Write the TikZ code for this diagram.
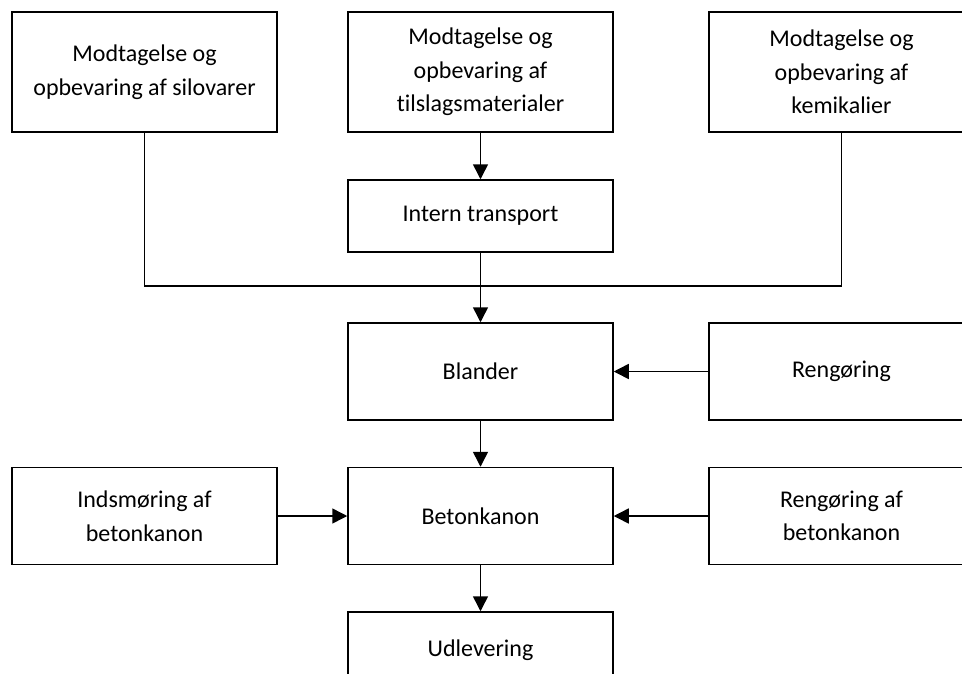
\documentclass[tikz,border=0pt]{standalone}
\usepackage{fontspec}
\setmainfont{Carlito}[Ligatures=NoCommon]
\usetikzlibrary{arrows.meta}
\begin{document}
\begin{tikzpicture}[x=1pt,y=-1pt,
  box/.style={draw=black, line width=1.5pt, fill=white, minimum width=265pt, align=center,
    inner sep=0pt, font=\fontsize{24}{33.5}\selectfont},
  tall/.style={box, minimum height=120pt},
  mid/.style={box, minimum height=97pt},
  short/.style={box, minimum height=72pt},
  conn/.style={line width=1.5pt},
  arr/.style={conn, -{Triangle[length=15pt,width=15pt]}}]
\clip (0,0) rectangle (962,673);
\fill[white] (0,0) rectangle (962,673);
\node[tall] (tl) at (144.5,72) {Modtagelse og\\opbevaring af silovarer};
\node[tall] (tm) at (480.5,72) {Modtagelse og\\opbevaring af\\tilslagsmaterialer};
\node[tall] (tr) at (841.5,72) {Modtagelse og\\opbevaring af\\kemikalier};
\node[short] (it) at (480.5,216) {Intern transport};
\node[mid] (bl) at (480.5,371.5) {Blander};
\node[mid] (rg) at (841.5,371.5) {Rengøring};
\node[mid] (bk) at (480.5,516) {Betonkanon};
\node[mid] (ib) at (144.5,516) {Indsmøring af\\betonkanon};
\node[mid] (rb) at (841.5,516) {Rengøring af\\betonkanon};
\node[box, minimum height=76pt] (ud) at (480.5,650) {Udlevering};
\coordinate (m) at (480.5,286);
\draw[arr] (tm) -- (it);
\draw[conn] (tl.south) |- (m);
\draw[conn] (tr.south) |- (m);
\draw[conn] (it.south) -- (m);
\draw[arr] (m) -- (bl.north);
\draw[arr] (rg) -- (bl);
\draw[arr] (bl) -- (bk);
\draw[arr] (ib) -- (bk);
\draw[arr] (rb) -- (bk);
\draw[arr] (bk) -- (ud);
\end{tikzpicture}
\end{document}
